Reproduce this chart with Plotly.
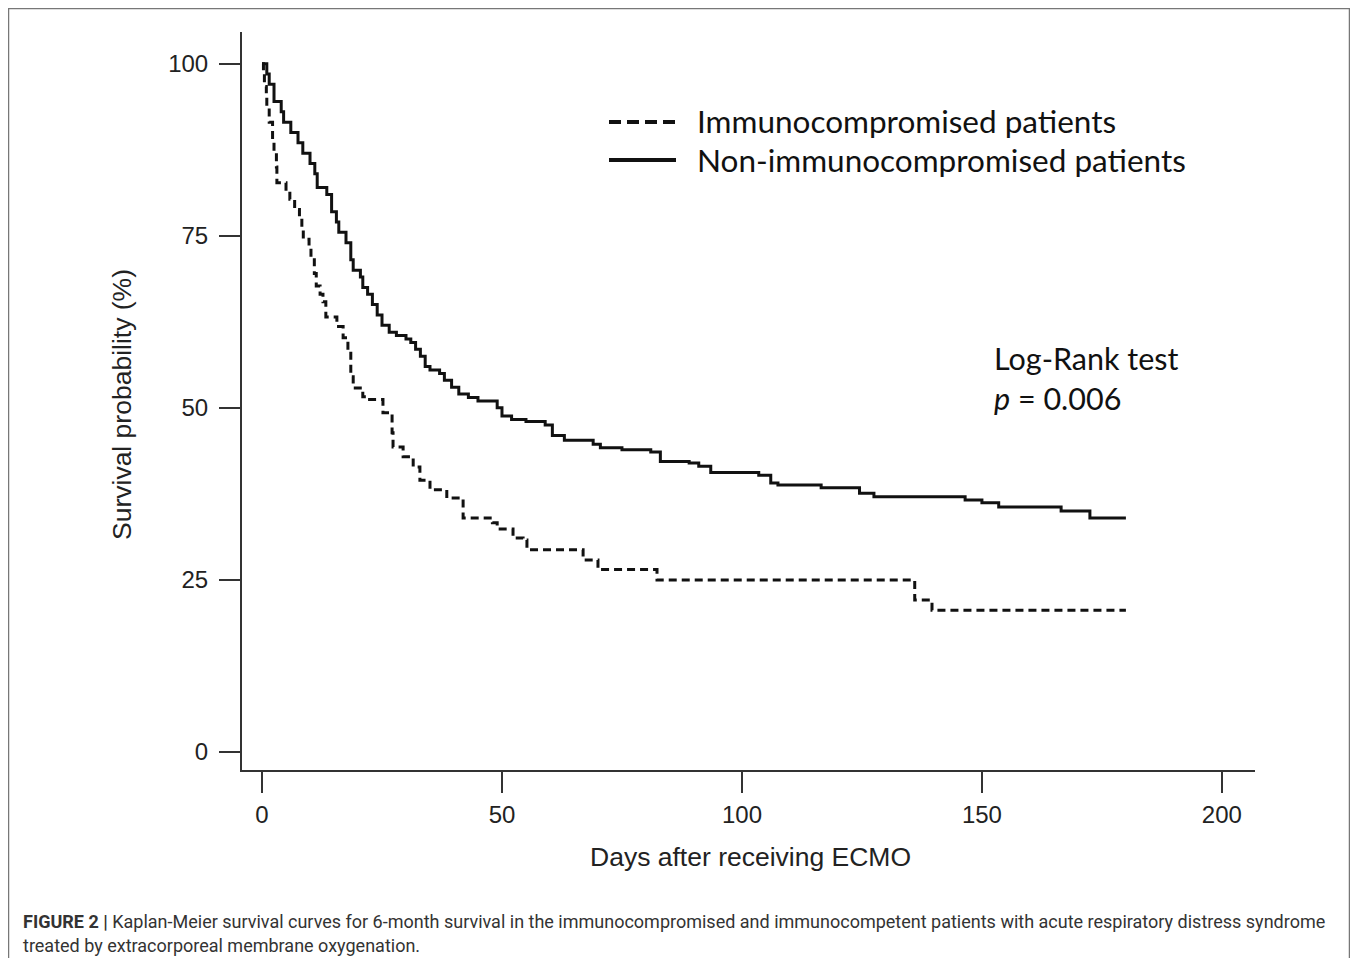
import plotly.graph_objects as go

# ---- data ----
series_names = ["Immunocompromised patients", "Non-immunocompromised patients"]

immuno_days = [0, 0.3, 0.5, 0.9, 1.0, 1.5, 2.2, 2.5, 3.0, 3.1, 5.0, 5.8, 6.8, 7.8, 8.3, 8.6,
               9.8, 10.2, 10.9, 11.3, 12.1, 12.7, 13.3, 15.6, 16.9, 17.9, 18.5, 19.0, 21.0,
               21.9, 25.2, 27.1, 27.3, 29.4, 31.5, 32.9, 35.0, 38.5, 41.9, 48.0, 49.0, 52.3,
               54.4, 55.2, 66.9, 70.0, 82.3, 136.0, 139.6, 180.0]
immuno_surv = [100, 98.7, 96.7, 95.5, 93.5, 91.5, 89, 87, 85, 82.7, 81.5, 80.3, 78.8, 77.5, 76, 74.5,
               73.5, 71.5, 69.5, 67.7, 66.5, 65.4, 63.2, 61.8, 60.2, 58.4, 54.5, 52.9, 51.6,
               51.2, 49.3, 46.4, 44.3, 42.9, 41.4, 39.5, 38.1, 36.9, 34.0, 33.3, 32.4, 31.1,
               30.8, 29.4, 27.9, 26.5, 25.0, 22.1, 20.6, 20.6]

nonimmuno_days = [0, 1, 1.5, 2.5, 4, 4.5, 6, 7.5, 8.5, 10, 11, 11.5, 13.5, 14.5, 15.5, 16, 17.5,
                  18.5, 19, 20.5, 21, 22, 23, 24, 25, 26.5, 28, 30, 31, 32, 33, 34, 35, 37, 38,
                  39.5, 41, 43, 45, 49, 50, 52, 55, 59, 60.5, 63, 69, 70.5, 75, 81, 83, 89, 91,
                  93.5, 103.5, 106, 107.5, 116.5, 124.5, 127.5, 146.5, 150, 153.5, 166.5, 172.5, 180]
nonimmuno_surv = [100, 98.5, 97, 94.5, 93, 91.5, 90, 88.5, 87, 85.5, 84, 82, 81, 78.5, 77, 75.5, 74,
                  71.5, 70, 69, 67.5, 66.5, 65, 63.5, 62, 61, 60.5, 60, 59.5, 58.5, 57.5, 56, 55.5, 55, 54,
                  53, 52, 51.5, 51, 50, 48.8, 48.3, 48, 47.5, 46, 45.3, 44.7, 44.2, 43.9, 43.6, 42.2, 42, 41.5,
                  40.6, 40.2, 39.1, 38.8, 38.4, 37.6, 37.1, 36.6, 36.2, 35.6, 35.0, 34.0, 34.0]

x_ticks = [0, 50, 100, 150, 200]
y_ticks = [0, 25, 50, 75, 100]

x_title = "Days after receiving ECMO"
y_title = "Survival probability (%)"
test_lines = ["Log-Rank test", "<i>p</i> = 0.006"]
caption_lines = [
    "<b>FIGURE 2 |</b> Kaplan-Meier survival curves for 6-month survival in the immunocompromised and "
    "immunocompetent patients with acute respiratory distress syndrome",
    "treated by extracorporeal membrane oxygenation.",
]

# ---- layout geometry (page pixels; the page body has an 8px margin) ----
OFF = 8
W, H = 1342, 950
L, R, T, B = 242, 1255, 32, 770
pw, ph = R - L, B - T


def px(X):
    return (X - L) / pw


def py(Y):
    return (B - Y) / ph


fig = go.Figure()
fig.add_trace(go.Scatter(x=immuno_days, y=immuno_surv, mode="lines", name=series_names[0],
                         line=dict(color="#111", width=3, dash="8px,5px", shape="hv"),
                         showlegend=False))
fig.add_trace(go.Scatter(x=nonimmuno_days, y=nonimmuno_surv, mode="lines", name=series_names[1],
                         line=dict(color="#111", width=3, shape="hv"),
                         showlegend=False))

tick_font = dict(family="Liberation Sans, Arial, sans-serif", size=24, color="#222")
title_font = dict(family="Liberation Sans, Arial, sans-serif", size=26.5, color="#222")
calibri = "Lato, Carlito, Calibri, sans-serif"

fig.update_xaxes(range=[-4.17, 206.9], tickvals=x_ticks, ticks="outside", ticklen=21, tickwidth=2,
                 tickcolor="#333", showline=True, linecolor="#333", linewidth=2, showgrid=False,
                 zeroline=False, tickfont=tick_font, ticklabelstandoff=1)
fig.update_yaxes(range=[-2.61, 104.6], tickvals=y_ticks, ticks="outside", ticklen=21, tickwidth=2,
                 tickcolor="#333", showline=True, linecolor="#333", linewidth=2, showgrid=False,
                 zeroline=False, tickfont=tick_font, ticklabelstandoff=6)

annotations = [
    dict(x=px(750), y=py(857), xref="paper", yref="paper", text=x_title, showarrow=False,
         font=title_font, xanchor="center", yanchor="middle"),
    dict(x=px(122), y=py(405), xref="paper", yref="paper", text=y_title, showarrow=False,
         font=title_font, textangle=-90, xanchor="center", yanchor="middle"),
]
# legend text
for name, Y in zip(series_names, [121, 160]):
    annotations.append(dict(x=px(695), y=py(Y), xref="paper", yref="paper", text=name, showarrow=False,
                            font=dict(family=calibri, size=31.5, color="#111"), xanchor="left",
                            yanchor="middle"))
for line, Y in zip(test_lines, [358, 398]):
    annotations.append(dict(x=px(992), y=py(Y), xref="paper", yref="paper", text=line, showarrow=False,
                            font=dict(family=calibri, size=30.5, color="#111"), xanchor="left",
                            yanchor="middle"))
for line, Y in zip(caption_lines, [921, 945]):
    annotations.append(dict(x=px(21), y=py(Y), xref="paper", yref="paper", text=line, showarrow=False,
                            font=dict(family="Roboto, Liberation Sans, sans-serif", size=18, color="#333"),
                            xanchor="left", yanchor="middle"))

shapes = [
    # outer frame
    dict(type="rect", xref="paper", yref="paper", x0=px(8.5), x1=px(1349.5), y0=py(985), y1=py(8.5),
         line=dict(color="#777", width=1.5), layer="below"),
    # legend samples
    dict(type="line", xref="paper", yref="paper", x0=px(609), x1=px(676), y0=py(122), y1=py(122),
         line=dict(color="#111", width=4, dash="12px,6px")),
    dict(type="line", xref="paper", yref="paper", x0=px(609), x1=px(676), y0=py(160), y1=py(160),
         line=dict(color="#111", width=4)),
]

fig.update_layout(width=W, height=H,
                  margin=dict(l=L - OFF, r=(W + OFF) - R, t=T - OFF, b=(H + OFF) - B),
                  paper_bgcolor="white", plot_bgcolor="white", showlegend=False,
                  annotations=annotations, shapes=shapes)

fig.write_html("out.html")
